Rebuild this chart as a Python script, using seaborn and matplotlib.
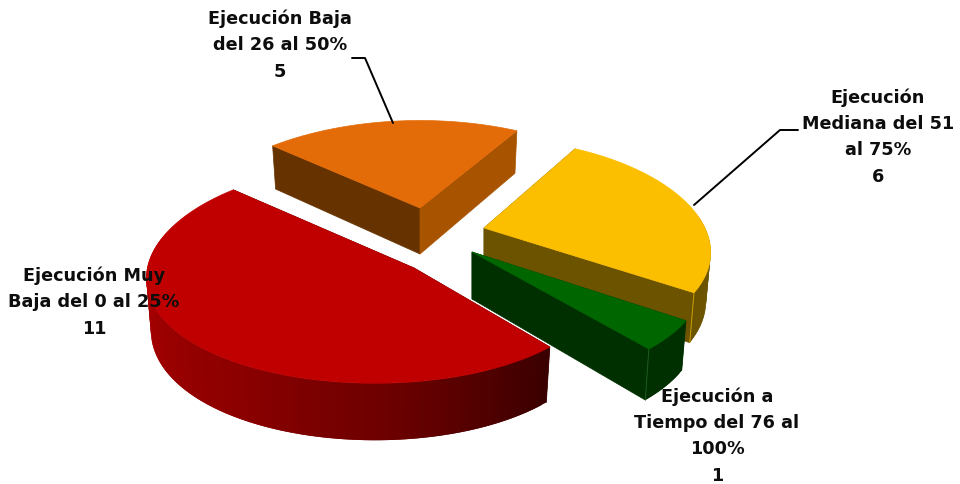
import numpy as np
import seaborn as sns
from matplotlib import pyplot as plt

# values and labels, clockwise from the red slice
categories = ['Ejecución Muy\nBaja del 0 al 25%', 'Ejecución Baja\ndel 26 al 50%',
              'Ejecución\nMediana del 51\nal 75%', 'Ejecución a\nTiempo del 76 al\n100%']
values = [11, 5, 6, 1]

top_colors = ['#c00000', '#e36c09', '#fcbf00', '#006600']
# colour of the two cut faces of each slice (first edge, second edge)
face_colors = [('#400000', '#400000'), ('#663300', '#a85300'), ('#6b5300', '#6b5300'), ('#003000', '#003000')]
wall_ramps = [['#3a0000', '#6a0000', '#8c0000', '#a00000', '#a80000', '#a80000'], ['#a85300', '#a85300'],
              ['#7a5c00', '#6b5300'], ['#003000', '#003000']]

# arc centre and visible tip of each exploded slice, in pixels
apex = [(375, 252), (420, 208), (482, 226), (474, 254)]
top_tip = [(414, 268), (420, 208), (484, 228), (472, 252)]
label_pos = [(94, 302), (280, 45), (878, 137), (717, 436)]
depths = [51, 46, 47, 47]
widen = [1.0, 1.04, 1.0, 1.0]

start_angle = -50
radius_x, radius_y = 222, 105
persp_x, persp_y = 0.24, 0.20

sns.set_theme(style='white')
plt.rcParams['font.family'] = ['DejaVu Sans']


def project(theta, i, drop=False):
    c, s = np.cos(theta), np.sin(theta)
    kx = 1 / (1 + persp_x * s)
    ky = 1 / (1 + persp_y * s)
    shrink = 0.98 if drop else 1.0
    x = apex[i][0] + radius_x * widen[i] * c * kx * shrink
    y = apex[i][1] - radius_y * s * ky
    if drop:
        y = y + depths[i] * np.sqrt(ky)
    return x, y


def cut_face(t, i, col, z):
    a = project(t, i)
    b = project(t, i, True)
    x0, y0 = top_tip[i]
    ax.fill([x0, a[0], b[0], x0], [y0, a[1], b[1], y0 + depths[i]], color=col, lw=0.5, zorder=z)


fig = plt.figure(figsize=(9.6, 4.84), dpi=100)
ax = fig.add_axes([0, 0, 1, 1])
ax.set_xlim(0, 960)
ax.set_ylim(484, 0)
ax.axis('off')

spans = np.array(values) / sum(values) * 2 * np.pi
edges = np.deg2rad(start_angle) - np.concatenate([[0], np.cumsum(spans)])

for i in [1, 2, 3, 0]:
    t0, t1 = edges[i], edges[i + 1]
    arc = np.linspace(t0, t1, int(np.rad2deg(spans[i]) / 1.5) + 2)
    z = 10 + i if i else 20

    # cut faces
    if i == 3:
        cut_face(t1, i, face_colors[i][1], z)
        cut_face(t0, i, face_colors[i][0], z)
    else:
        cut_face(t0, i, face_colors[i][0], z)
        cut_face(t1, i, face_colors[i][1], z)

    # outer wall, split into overlapping strips for the shading
    ramp = sns.blend_palette(wall_ramps[i], len(arc) - 1)
    for j in range(len(arc) - 1):
        if np.sin(arc[j]) > 0.15 and i != 3:
            continue
        j2 = min(j + 2, len(arc) - 1)
        p0, p1 = project(arc[j], i), project(arc[j2], i)
        q0, q1 = project(arc[j], i, True), project(arc[j2], i, True)
        ax.fill([p0[0], p1[0], q1[0], q0[0]], [p0[1], p1[1], q1[1], q0[1]], color=ramp[j], lw=0, zorder=z)

    # top
    xs, ys = project(arc, i)
    ax.fill(np.r_[top_tip[i][0], xs], np.r_[top_tip[i][1], ys], color=top_colors[i], lw=0.5, zorder=z + 0.5)

# thin pale edges at the front corners of the yellow and green slices
for i, t, col in [(2, edges[3], '#c9a000'), (3, edges[4], '#1f5a1f')]:
    a = project(t, i)
    b = project(t, i, True)
    ax.plot([a[0], b[0]], [a[1], b[1]], color=col, lw=0.7, zorder=10 + i + 0.4)

# leader lines
ax.plot([352, 365, 393], [58, 58, 123], color='black', lw=1.4, zorder=30)
ax.plot([798, 780, 694], [130, 130, 205], color='black', lw=1.4, zorder=30)

for name, val, pos in zip(categories, values, label_pos):
    ax.text(pos[0], pos[1], f'{name}\n{val}', ha='center', va='center', fontsize=12.7, fontweight='bold',
            color='#0d0d0d', linespacing=1.6, zorder=40)

fig.savefig('out.png', dpi=100)
